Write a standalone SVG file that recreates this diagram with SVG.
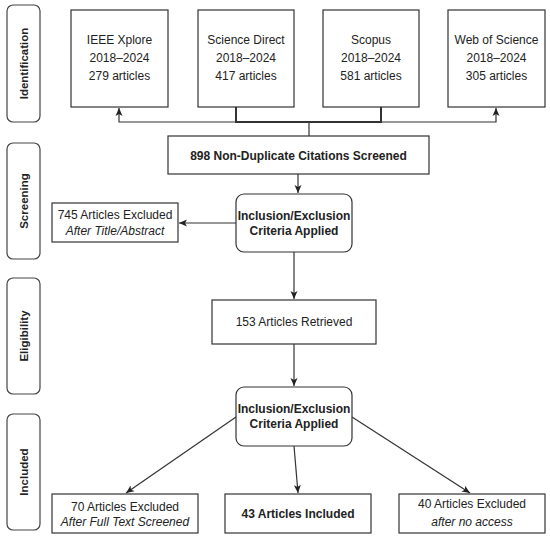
<svg xmlns="http://www.w3.org/2000/svg" width="550" height="536" viewBox="0 0 550 536">
<style>
.box{fill:#fff;stroke:#333;stroke-width:1.2}
.lab{fill:#fff;stroke:#444;stroke-width:1.2}
.t{font-family:"Liberation Sans",Arial,sans-serif;font-size:12px;fill:#222;text-anchor:middle}
.b{font-weight:bold}
.i{font-style:italic}
.side{font-family:"Liberation Sans",Arial,sans-serif;font-size:11.5px;font-weight:bold;fill:#222;text-anchor:middle}
.ln{fill:none;stroke:#333;stroke-width:1.2}
.thk{fill:none;stroke:#333;stroke-width:2}
</style>
<defs>
<marker id="ah" markerUnits="userSpaceOnUse" markerWidth="10" markerHeight="10" viewBox="0 0 10 10" refX="9" refY="5" orient="auto">
<path d="M1,1.5 L9,5 L1,8.5 L3,5 z" fill="#222"/>
</marker>
</defs>
<g id="side-labels">
<g id="lab-identification"><rect class="lab" x="7" y="5" width="33" height="117" rx="6"/><text class="side" transform="translate(27.5,63.5) rotate(-90)">Identification</text></g>
<g id="lab-screening"><rect class="lab" x="7" y="143" width="33" height="116" rx="6"/><text class="side" transform="translate(27.5,201) rotate(-90)">Screening</text></g>
<g id="lab-eligibility"><rect class="lab" x="7" y="278" width="33" height="116" rx="6"/><text class="side" transform="translate(27.5,336) rotate(-90)">Eligibility</text></g>
<g id="lab-included"><rect class="lab" x="7" y="414" width="33" height="116" rx="6"/><text class="side" transform="translate(27.5,472) rotate(-90)">Included</text></g>
</g>
<g id="connectors">
<path class="thk" d="M236,107 V122 H381 V107"/>
<path class="ln" d="M309,136 V122"/>
<path class="ln" d="M309,122 H119 V108" marker-end="url(#ah)"/>
<path class="ln" d="M309,122 H496 V108" marker-end="url(#ah)"/>
<path class="ln" d="M298,174 V193" marker-end="url(#ah)"/>
<path class="ln" d="M236,223 H179" marker-end="url(#ah)"/>
<path class="ln" d="M294,252 V299" marker-end="url(#ah)"/>
<path class="ln" d="M294,344 V386" marker-end="url(#ah)"/>
<path class="ln" d="M236,417 L126,493" marker-end="url(#ah)"/>
<path class="ln" d="M294,446 L298,493" marker-end="url(#ah)"/>
<path class="ln" d="M352,417 L470,493" marker-end="url(#ah)"/>
</g>
<g id="ieee"><rect class="box" x="71" y="10" width="97" height="97"/>
<text class="t" x="119.5" y="44">IEEE Xplore</text><text class="t" x="119.5" y="62">2018–2024</text><text class="t" x="119.5" y="80">279 articles</text></g>
<g id="sciencedirect"><rect class="box" x="198" y="10" width="96" height="97"/>
<text class="t" x="246" y="44">Science Direct</text><text class="t" x="246" y="62">2018–2024</text><text class="t" x="246" y="80">417 articles</text></g>
<g id="scopus"><rect class="box" x="323" y="10" width="96" height="97"/>
<text class="t" x="371" y="44">Scopus</text><text class="t" x="371" y="62">2018–2024</text><text class="t" x="371" y="80">581 articles</text></g>
<g id="wos"><rect class="box" x="448" y="10" width="97" height="97"/>
<text class="t" x="496.5" y="44">Web of Science</text><text class="t" x="496.5" y="62">2018–2024</text><text class="t" x="496.5" y="80">305 articles</text></g>
<g id="screened"><rect class="box" x="168" y="136" width="261" height="38"/>
<text class="t b" x="298.5" y="159.5">898 Non-Duplicate Citations Screened</text></g>
<g id="criteria1"><rect class="box" x="236" y="194" width="116" height="58" rx="8"/>
<text class="t b" x="294" y="220">Inclusion/Exclusion</text><text class="t b" x="294" y="234.5">Criteria Applied</text></g>
<g id="excluded745"><rect class="box" x="52" y="203" width="126" height="39"/>
<text class="t" x="115" y="218.5">745 Articles Excluded</text><text class="t i" x="115" y="235">After Title/Abstract</text></g>
<g id="retrieved"><rect class="box" x="212" y="300" width="164" height="44"/>
<text class="t" x="294" y="326">153 Articles Retrieved</text></g>
<g id="criteria2"><rect class="box" x="236" y="387" width="116" height="59" rx="8"/>
<text class="t b" x="294" y="413">Inclusion/Exclusion</text><text class="t b" x="294" y="427.5">Criteria Applied</text></g>
<g id="excluded70"><rect class="box" x="52" y="494" width="146" height="39"/>
<text class="t" x="125" y="510.5">70 Articles Excluded</text><text class="t i" x="125" y="526">After Full Text Screened</text></g>
<g id="included43"><rect class="box" x="225" y="494" width="146" height="39"/>
<text class="t b" x="298" y="517.5">43 Articles Included</text></g>
<g id="excluded40"><rect class="box" x="399" y="494" width="146" height="39"/>
<text class="t" x="472" y="508">40 Articles Excluded</text><text class="t i" x="472" y="526">after no access</text></g>
</svg>
